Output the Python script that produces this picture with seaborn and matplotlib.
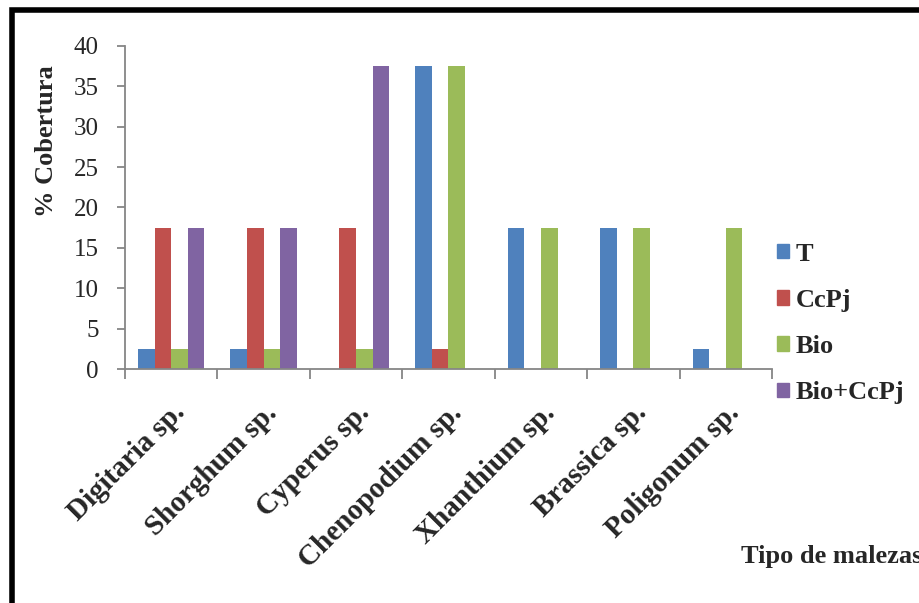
import matplotlib
matplotlib.use("Agg")
import matplotlib.pyplot as plt
import matplotlib.patches as mpatches
import matplotlib.transforms as mtransforms
import seaborn as sns
import pandas as pd

categories = ["Digitaria sp.", "Shorghum sp.", "Cyperus sp.", "Chenopodium sp.",
              "Xhanthium sp.", "Brassica sp.", "Poligonum sp."]
series_names = ["T", "CcPj", "Bio", "Bio+CcPj"]
t_vals = [2.5, 2.5, 0, 37.5, 17.5, 17.5, 2.5]
ccpj_vals = [17.5, 17.5, 17.5, 2.5, 0, 0, 0]
bio_vals = [2.5, 2.5, 2.5, 37.5, 17.5, 17.5, 17.5]
biocc_vals = [17.5, 17.5, 37.5, 0, 0, 0, 0]
colors = ["#4F81BD", "#C0504D", "#9BBB59", "#8064A2"]
yticks = [0, 5, 10, 15, 20, 25, 30, 35, 40]

rows = []
for name, vals in zip(series_names, [t_vals, ccpj_vals, bio_vals, biocc_vals]):
    for cat, v in zip(categories, vals):
        rows.append({"Tipo": cat, "Serie": name, "Cobertura": v})
df = pd.DataFrame(rows)

sns.set_style("white")
plt.rcParams["font.family"] = ["Liberation Serif", "DejaVu Serif"]

W, H = 919, 603
fig = plt.figure(figsize=(W / 100, H / 100), dpi=100)
ax = fig.add_axes([125 / W, 1 - 369 / H, (772 - 125) / W, (369 - 46) / H])

sns.barplot(data=df, x="Tipo", y="Cobertura", hue="Serie", order=categories,
            hue_order=series_names, palette=colors, width=0.72, gap=0,
            saturation=1, ax=ax, legend=False, linewidth=0)

ax.set_xlim(-0.5, len(categories) - 0.5)
ax.set_ylim(0, 40)
ax.set_yticks(yticks)
ax.set_yticklabels([str(v) for v in yticks], fontsize=18)
ax.set_xlabel("")
ax.set_ylabel("")

axis_gray = "#868686"
for side in ["top", "right"]:
    ax.spines[side].set_visible(False)
for side in ["left", "bottom"]:
    ax.spines[side].set_color(axis_gray)
    ax.spines[side].set_linewidth(1.3)

ax.tick_params(axis="y", direction="out", length=6, width=1.3, color=axis_gray,
               left=True, pad=13)
# category boundary ticks on the x axis
ax.set_xticks([i - 0.5 for i in range(len(categories) + 1)])
ax.set_xticklabels([])
ax.tick_params(axis="x", direction="out", length=7, width=1.3, color=axis_gray,
               bottom=True)

# rotated category names
label_tf = mtransforms.blended_transform_factory(ax.transData, ax.transAxes) + \
    mtransforms.ScaledTranslation(0.0, -0.30, fig.dpi_scale_trans)
for i, cat in enumerate(categories):
    ax.text(i, 0, cat, rotation=45, rotation_mode="anchor", ha="right", va="top",
            fontsize=21, fontweight="bold", transform=label_tf)

fig.text(47 / W, 1 - 141 / H, "% Cobertura", rotation=90, ha="center", va="center",
         fontsize=19, fontweight="bold")
fig.text(741 / W, 1 - 556 / H, "Tipo de malezas", ha="left", va="center",
         fontsize=19, fontweight="bold")

handles = [mpatches.Patch(color=c, label=n) for c, n in zip(colors, series_names)]
leg = fig.legend(handles=handles, loc="upper left", bbox_to_anchor=(766 / W, 1 - 232 / H),
                 frameon=False, prop={"size": 19, "weight": "bold"},
                 handlelength=0.46, handleheight=0.46, handletextpad=0.25,
                 labelspacing=0.88, borderaxespad=0)

frame = mpatches.Rectangle((11.5 / W, -0.05), 1.2, 1 - 10 / H + 0.05,
                           transform=fig.transFigure, fill=False,
                           edgecolor="black", linewidth=4, clip_on=False)
fig.patches.append(frame)

fig.savefig("out.png", dpi=100)
